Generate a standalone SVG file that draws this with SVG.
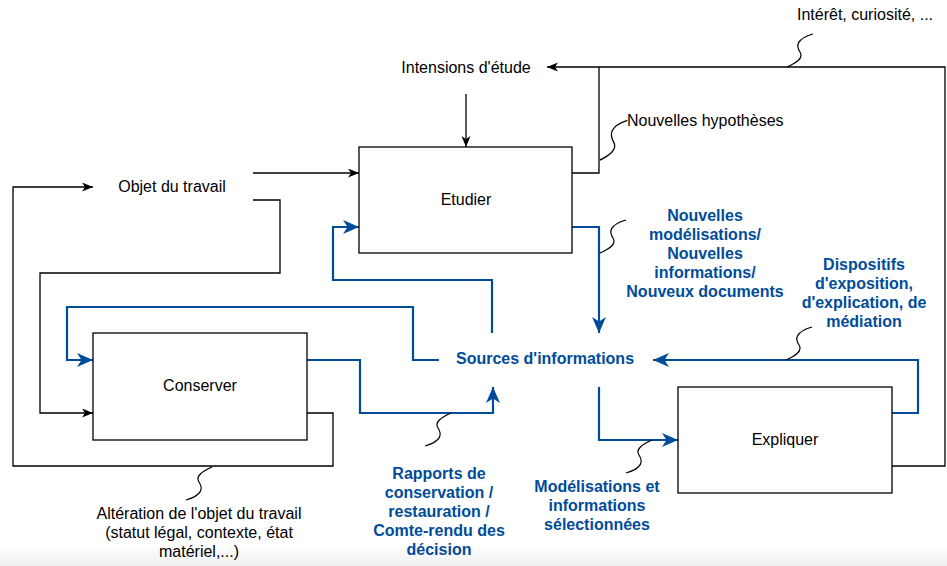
<svg xmlns="http://www.w3.org/2000/svg" xmlns:xlink="http://www.w3.org/1999/xlink" width="947" height="566" viewBox="0 0 947 566">
<style>
.box{fill:#fff;stroke:#000;stroke-width:1.3}
.k{fill:none;stroke:#000;stroke-width:1.3}
.b{fill:none;stroke:#004C99;stroke-width:2.2}
.sq{fill:none;stroke:#000;stroke-width:1.2}
.t{font-family:"Liberation Sans",Arial,sans-serif;font-size:16px;fill:#000;text-anchor:middle}
.tb{font-family:"Liberation Sans",Arial,sans-serif;font-size:16px;font-weight:bold;fill:#004C99;text-anchor:middle}
</style>
<defs>
<marker id="ak" markerUnits="userSpaceOnUse" markerWidth="12" markerHeight="10" refX="11" refY="4.5" orient="auto">
<path d="M0,0 L11,4.5 L0,9 L3,4.5 Z" fill="#000"/>
</marker>
<marker id="ab" markerUnits="userSpaceOnUse" markerWidth="17" markerHeight="15" refX="16" refY="7" orient="auto">
<path d="M0,0 L16,7 L0,14 L4.5,7 Z" fill="#004C99"/>
</marker>
<path id="sq" class="sq" d="M0,0 C9,-4 17,-9 13,-15 C9,-21 9,-28 26,-33"/>
<linearGradient id="fade" x1="0" y1="0" x2="0" y2="1">
<stop offset="0" stop-color="#f2f2f2" stop-opacity="0"/>
<stop offset="1" stop-color="#eeeeee" stop-opacity="1"/>
</linearGradient>
</defs>
<rect width="947" height="566" fill="#fff"/>
<rect x="0" y="544" width="947" height="22" fill="url(#fade)"/>

<g id="connectors">
<path class="k" d="M466,94 L466,147" marker-end="url(#ak)"/>
<path class="k" d="M253,173 L359,173" marker-end="url(#ak)"/>
<path class="k" d="M253,200 L280,200 L280,273 L40,273 L40,413 L93,413" marker-end="url(#ak)"/>
<path class="k" d="M307,413 L333,413 L333,466 L13,466 L13,187 L93,187" marker-end="url(#ak)"/>
<path class="k" d="M572,173 L599,173 L599,67"/>
<path class="k" d="M892,466 L945,466 L945,67 L547,67" marker-end="url(#ak)"/>
<path class="b" d="M439,360 L413,360 L413,307 L67,307 L67,360 L93,360" marker-end="url(#ab)"/>
<path class="b" d="M307,360 L360,360 L360,413 L493,413 L493,387" marker-end="url(#ab)"/>
<path class="b" d="M492,333 L492,280 L333,280 L333,227 L359,227" marker-end="url(#ab)"/>
<path class="b" d="M572,227 L599,227 L599,333" marker-end="url(#ab)"/>
<path class="b" d="M599,387 L599,440 L678,440" marker-end="url(#ab)"/>
<path class="b" d="M892,413 L918,413 L918,360 L653,360" marker-end="url(#ab)"/>
<use xlink:href="#sq" href="#sq" transform="translate(787,67)"/>
<use xlink:href="#sq" href="#sq" transform="translate(600,160) scale(1.05,1.2)"/>
<use xlink:href="#sq" href="#sq" transform="translate(600,253)"/>
<use xlink:href="#sq" href="#sq" transform="translate(786,360)"/>
<use xlink:href="#sq" href="#sq" transform="translate(652,440) rotate(180)"/>
<use xlink:href="#sq" href="#sq" transform="translate(451,413) rotate(180)"/>
<use xlink:href="#sq" href="#sq" transform="translate(212,467) rotate(180)"/>
</g>

<g id="etudier">
<rect class="box" x="359" y="147" width="213" height="106"/>
<text class="t" x="466" y="205">Etudier</text>
</g>
<g id="conserver">
<rect class="box" x="93" y="333" width="214" height="107"/>
<text class="t" x="200" y="391">Conserver</text>
</g>
<g id="expliquer">
<rect class="box" x="678" y="387" width="214" height="106"/>
<text class="t" x="785" y="445">Expliquer</text>
</g>
<g id="sources">
<text class="tb" x="545" y="364">Sources d'informations</text>
</g>
<g id="intensions">
<text class="t" x="466" y="73">Intensions d'étude</text>
</g>
<g id="objet">
<text class="t" x="172" y="192">Objet du travail</text>
</g>
<g id="interet">
<text class="t" x="865" y="20">Intérêt, curiosité, ...</text>
</g>
<g id="hypotheses">
<text class="t" x="627" y="126" style="text-anchor:start">Nouvelles hypothèses</text>
</g>
<g id="nouvelles">
<text class="tb"><tspan x="705" y="221">Nouvelles</tspan><tspan x="705" y="240">modélisations/</tspan><tspan x="705" y="259">Nouvelles</tspan><tspan x="705" y="278">informations/</tspan><tspan x="705" y="297">Nouveux documents</tspan></text>
</g>
<g id="dispositifs">
<text class="tb"><tspan x="864" y="270">Dispositifs</tspan><tspan x="864" y="289">d'exposition,</tspan><tspan x="864" y="308">d'explication, de</tspan><tspan x="864" y="327">médiation</tspan></text>
</g>
<g id="rapports">
<text class="tb"><tspan x="439" y="479">Rapports de</tspan><tspan x="439" y="498">conservation /</tspan><tspan x="439" y="517">restauration /</tspan><tspan x="439" y="536">Comte-rendu des</tspan><tspan x="439" y="555">décision</tspan></text>
</g>
<g id="modelisations">
<text class="tb"><tspan x="597" y="492">Modélisations et</tspan><tspan x="597" y="511">informations</tspan><tspan x="597" y="530">sélectionnées</tspan></text>
</g>
<g id="alteration">
<text class="t"><tspan x="199" y="519">Altération de l'objet du travail</tspan><tspan x="199" y="538">(statut légal, contexte, état</tspan><tspan x="199" y="557">matériel,...)</tspan></text>
</g>
</svg>
